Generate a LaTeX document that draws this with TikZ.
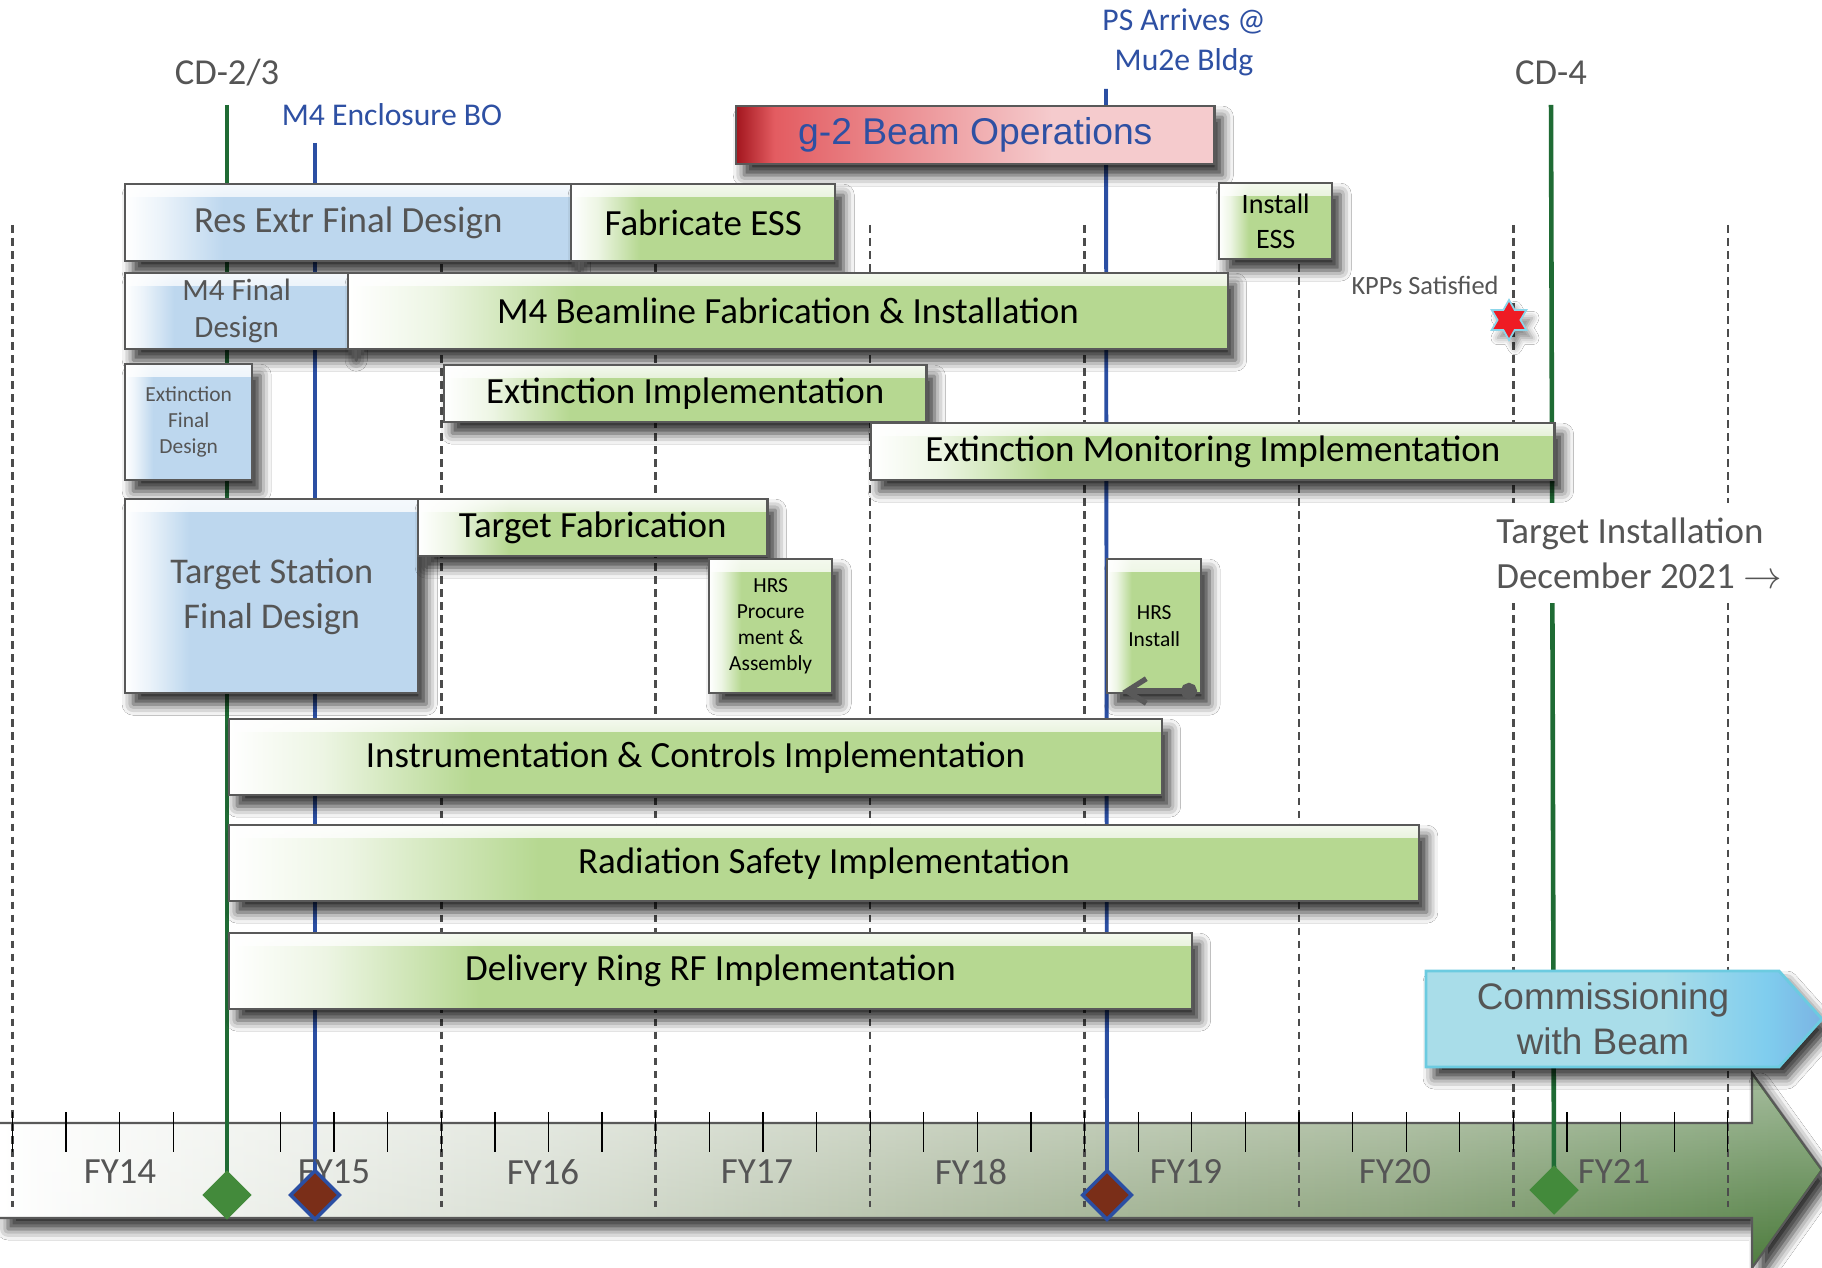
\documentclass[tikz,border=0pt]{standalone}
\usepackage{fontspec}
\setmainfont{Carlito}
\newfontfamily\arialfont{Liberation Sans}
\usetikzlibrary{shapes.geometric,arrows.meta,shadows.blur,fadings}

\definecolor{boxblue}{HTML}{BDD7EE}
\definecolor{boxgreen}{HTML}{B6D891}
\definecolor{edgegray}{HTML}{595959}
\definecolor{txtgray}{HTML}{555555}
\definecolor{txtblue}{HTML}{2E50A3}
\definecolor{msgreen}{HTML}{1F6B34}
\definecolor{msblue}{HTML}{2B4FA3}
\definecolor{diagreen}{HTML}{438A3B}
\definecolor{diared}{HTML}{7A2E18}
\definecolor{gtwodark}{HTML}{A3161E}
\definecolor{gtwomid}{HTML}{E35C61}
\definecolor{gtwolight}{HTML}{F5CBCD}
\definecolor{commfill}{HTML}{A9DDE9}
\definecolor{commdeep}{HTML}{7FCDEE}
\definecolor{commblue}{HTML}{7BB3E3}
\definecolor{commedge}{HTML}{6CCBE0}
\definecolor{kppred}{HTML}{EE1C24}
\definecolor{kppedge}{HTML}{8DD6EA}
\definecolor{axa}{HTML}{D3DACD}
\definecolor{axb}{HTML}{A9B79B}
\definecolor{axc}{HTML}{819B70}
\definecolor{axd}{HTML}{4B7A3B}

\pgfdeclarehorizontalshading{greenfade}{100bp}{color(0bp)=(white); color(25bp)=(white); color(30bp)=(boxgreen!25!white); color(38bp)=(boxgreen); color(100bp)=(boxgreen)}
\pgfdeclarehorizontalshading{bluefade}{100bp}{color(0bp)=(white); color(25bp)=(white); color(29bp)=(boxblue!30!white); color(36bp)=(boxblue); color(100bp)=(boxblue)}
\pgfdeclarehorizontalshading{gtwofade}{100bp}{color(0bp)=(gtwodark); color(25bp)=(gtwodark); color(29bp)=(gtwomid); color(42bp)=(gtwomid!55!gtwolight); color(58bp)=(gtwolight); color(100bp)=(gtwolight)}
\pgfdeclarehorizontalshading{commfade}{100bp}{color(0bp)=(commfill); color(25bp)=(commfill); color(55bp)=(commfill); color(68bp)=(commdeep); color(75bp)=(commblue); color(100bp)=(commblue)}
\pgfdeclarehorizontalshading{axisfade}{100bp}{color(0bp)=(white); color(25bp)=(white); color(40bp)=(axa); color(51bp)=(axb); color(63bp)=(axc); color(74bp)=(axd); color(100bp)=(axd)}

\begin{document}
\begin{tikzpicture}[x=0.01cm, y=-0.01cm,
        every node/.style={inner sep=0pt},
        softshadow/.style={blur shadow={shadow xshift=0.8mm, shadow yshift=-1.1mm,
            shadow blur radius=1.1mm, shadow opacity=82}},
        bar/.style={draw=edgegray, line width=0.65pt, anchor=north west, align=center, softshadow},
        glow/.style={path picture={\fill[white, path fading=south, opacity=0.85]
            (path picture bounding box.north west) rectangle ([yshift=-0.13cm]path picture bounding box.north east);}},
        greenbar/.style={bar, glow, shade, shading=greenfade, text=black},
        bluebar/.style={bar, glow, shade, shading=bluefade, text=txtgray},
        bigtxt/.style={font=\fontsize{10.5}{12.8}\selectfont},
        midtxt/.style={font=\fontsize{8.8}{10.5}\selectfont},
        smalltxt/.style={font=\fontsize{6.1}{7.4}\selectfont},
        yearline/.style={draw=black!70, line width=0.7pt, dash pattern=on 2.2pt off 1.5pt},
        mline/.style={line width=1.1pt},
        gem/.style={diamond, minimum width=0.5cm, minimum height=0.5cm},
        mslabel/.style={font=\fontsize{9}{11.4}\selectfont, text=txtblue, align=center},
        cdlabel/.style={font=\fontsize{10.4}{12.5}\selectfont, text=txtgray},
        year/.style={font=\fontsize{10.5}{12}\selectfont, text=txtgray},
        backarrow/.style={draw=edgegray, line width=1.5pt,
            {Circle[length=4.6pt]}-{Straight Barb[length=5.5pt,width=7pt]}}
    ]
    \fill[white] (0,0) rectangle (1822,1268);
    \useasboundingbox (0,0) rectangle (1822,1268);

    % time axis
    \shade[shading=axisfade, softshadow] (0,1123) -- (1752,1123) -- (1752,1073) -- (1822,1170)
        -- (1752,1268) -- (1752,1218) -- (0,1218) -- cycle;
    \fill[white, path fading=south, opacity=0.5] (0,1123) -- (1752,1123) -- (1752,1073) -- (1822,1170)
        -- (1752,1268) -- (1752,1218) -- (0,1218) -- cycle;
    \draw[edgegray, line width=0.6pt] (0,1123) -- (1752,1123) -- (1752,1073) -- (1822,1170)
        -- (1752,1268) -- (1752,1218) -- (0,1218);

    % fiscal year boundaries and quarters
    \foreach \yy in {0,...,8}
        \draw[yearline] ({12.5+214.4*\yy},225) -- ({12.5+214.4*\yy},1207);
    \foreach \qq in {0,...,32}
        \draw[black, line width=0.35pt] ({12.5+53.6*\qq},1112) -- ++(0,40);

    % milestones
    \coordinate (cdtwotop) at (227,105);
    \coordinate (cdtwobase) at (227,1195);
    \coordinate (mfourtop) at (315,143);
    \coordinate (mfourbase) at (315,1195);
    \coordinate (pstop) at (1106,89);
    \coordinate (psbase) at (1107,1195);
    \coordinate (cdfourtop) at (1551,105);
    \coordinate (cdfourbase) at (1554,1190);
    \draw[mline, msgreen] (cdtwotop) -- (cdtwobase);
    \draw[mline, msblue] (mfourtop) -- (mfourbase);
    \draw[mline, msblue] (pstop) -- (psbase);
    \draw[mline, msgreen, line width=1.3pt] (cdfourtop) -- (cdfourbase);

    \foreach \xx/\yr in {120/14, 334/15, 543/16, 757/17, 971/18, 1186/19, 1395/20, 1614/21}
        \node[year] (fy\yr) at (\xx,1172) {FY\yr};

    \node[gem, fill=diagreen] (cdtwo) at (cdtwobase) {};
    \node[gem, fill=diared, draw=msblue, line width=1pt] (mfour) at (mfourbase) {};
    \node[gem, fill=diared, draw=msblue, line width=1pt] (psarr) at (psbase) {};
    \node[gem, fill=diagreen] (cdfour) at (cdfourbase) {};

    \node[cdlabel] (cdtwolab) at (227,73) {CD-2/3};
    \node[cdlabel] (cdfourlab) at (1551,73) {CD-4};
    \node[mslabel] (mfourlab) at (392,115) {M4 Enclosure BO};
    \node[mslabel] (pslab) at (1184,42) {PS Arrives @\\Mu2e Bldg};

    % activities
    \node[bar, shade, shading=gtwofade, minimum width=4.78cm, minimum height=0.58cm, text=txtblue,
        font=\arialfont\fontsize{10.6}{12}\selectfont] (gtwo) at (735,105) {g-2 Beam Operations};
    \node[bluebar, bigtxt, minimum width=4.46cm, minimum height=0.77cm] (resextr) at (124,183) {Res Extr Final Design};
    \node[greenbar, bigtxt, minimum width=2.64cm, minimum height=0.77cm] (fabess) at (570,183) {Fabricate ESS};
    \node[greenbar, font=\fontsize{8}{10}\selectfont, minimum width=1.13cm, minimum height=0.76cm] (instess) at (1218,182) {Install\\ESS};
    \node[bluebar, midtxt, minimum width=2.23cm, minimum height=0.76cm] (mfourfin) at (124,272) {M4 Final\\Design};
    \node[greenbar, bigtxt, minimum width=8.79cm, minimum height=0.76cm] (mfourfab) at (347,272) {M4 Beamline Fabrication \& Installation};
    \node[bluebar, smalltxt, minimum width=1.27cm, minimum height=1.16cm] (extfin) at (124,363) {Extinction\\Final\\Design};
    \node[greenbar, bigtxt, minimum width=4.82cm, minimum height=0.57cm] (extimp) at (443,364) {Extinction Implementation};
    \node[greenbar, bigtxt, minimum width=6.83cm, minimum height=0.57cm] (extmon) at (870,422) {Extinction Monitoring Implementation};
    \node[bluebar, font=\fontsize{10.3}{12.8}\selectfont, minimum width=2.93cm, minimum height=1.94cm] (tsfin) at (124,498) {Target Station\\Final Design};
    \node[greenbar, bigtxt, minimum width=3.49cm, minimum height=0.57cm] (tgtfab) at (417,498) {Target Fabrication};
    \node[greenbar, smalltxt, minimum width=1.23cm, minimum height=1.34cm] (hrsproc) at (708,558) {HRS\\Procure\\ment \&\\Assembly};
    \node[greenbar, font=\fontsize{6.1}{7.6}\selectfont, minimum width=0.94cm, minimum height=1.34cm] (hrsinst) at (1106,558) {HRS\\Install};
    \node[greenbar, bigtxt, minimum width=9.32cm, minimum height=0.76cm] (instr) at (228,718) {Instrumentation \& Controls Implementation};
    \node[greenbar, bigtxt, minimum width=11.89cm, minimum height=0.76cm] (radsafe) at (228,824) {Radiation Safety Implementation};
    \node[greenbar, bigtxt, minimum width=9.62cm, minimum height=0.76cm] (delring) at (228,932) {Delivery Ring RF Implementation};

    \coordinate (hrsdot) at (1197,691);
    \coordinate (hrstip) at (1122,691);
    \draw[backarrow] (hrsdot) -- (hrstip);

    % KPP and CD-4 notes
    \node[font=\fontsize{7.5}{9}\selectfont, text=txtgray] (kpplab) at (1425,285) {KPPs Satisfied};
    \node[star, star points=6, star point ratio=1.75, minimum size=0.4cm, fill=kppred, draw=kppedge,
        line width=0.5pt, blur shadow={shadow xshift=0.6mm, shadow yshift=-0.8mm, shadow opacity=45}] (kppstar) at (1509,320) {};
    \node[fill=white, inner xsep=0.06cm, inner ysep=0.15cm, align=left, bigtxt, text=txtgray] (tgtinst)
        at (1639,553) {Target Installation\\December 2021 $\rightarrow$};

    \shadedraw[shading=commfade, draw=commedge, line width=0.8pt, softshadow]
        (1426,971) -- (1779,971) -- (1822,1019) -- (1779,1067) -- (1426,1067) -- cycle;
    \node[font=\arialfont\fontsize{10.5}{12.8}\selectfont, text=txtgray, align=center] (commish)
        at (1603,1019) {Commissioning\\with Beam};
\end{tikzpicture}
\end{document}
